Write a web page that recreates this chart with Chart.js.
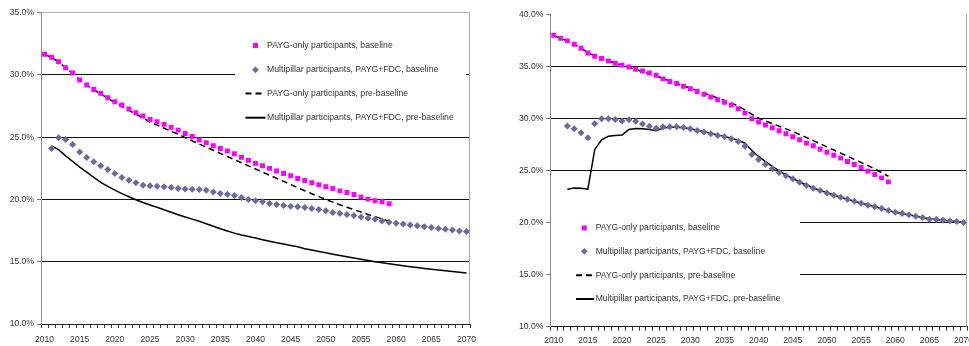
<!DOCTYPE html>
<html>
<head>
<meta charset="utf-8">
<script src="https://cdn.jsdelivr.net/npm/chart.js@4.4.1/dist/chart.umd.min.js"></script>
<style>
  html, body { margin: 0; padding: 0; background: #fff; }
  #wrap { position: relative; width: 969px; height: 346px; overflow: hidden; }
  canvas { position: absolute; top: 0; }
  #left { left: 0; }
  #right { left: 490px; }
</style>
</head>
<body>
<div id="wrap">
  <canvas id="left" width="490" height="346"></canvas>
  <canvas id="right" width="479" height="346"></canvas>
</div>
<script>
// Years on the category axis
const years = [
  2010, 2011, 2012, 2013, 2014, 2015, 2016, 2017, 2018, 2019,
  2020, 2021, 2022, 2023, 2024, 2025, 2026, 2027, 2028, 2029,
  2030, 2031, 2032, 2033, 2034, 2035, 2036, 2037, 2038, 2039,
  2040, 2041, 2042, 2043, 2044, 2045, 2046, 2047, 2048, 2049,
  2050, 2051, 2052, 2053, 2054, 2055, 2056, 2057, 2058, 2059,
  2060, 2061, 2062, 2063, 2064, 2065, 2066, 2067, 2068, 2069,
  2070
];

const seriesLabels = [
  'PAYG-only participants, baseline',
  'Multipillar participants, PAYG+FDC, baseline',
  'PAYG-only participants, pre-baseline',
  'Multipillar participants, PAYG+FDC, pre-baseline'
];

// Left panel (%)
const leftPaygBaseline = [
  31.66, 31.42, 31.06, 30.58, 30.15, 29.59, 29.19, 28.84, 28.52, 28.17,
  27.85, 27.58, 27.26, 26.97, 26.70, 26.43, 26.24, 26.03, 25.79, 25.57,
  25.30, 25.05, 24.77, 24.55, 24.32, 24.10, 23.89, 23.67, 23.38, 23.14,
  22.90, 22.71, 22.50, 22.28, 22.09, 21.90, 21.69, 21.53, 21.34, 21.18,
  21.03, 20.88, 20.69, 20.56, 20.40, 20.19, 20.03, 19.89, 19.81, 19.65,
  null, null, null, null, null, null, null, null, null, null,
  null
];
const leftMultiBaseline = [
  null, 24.10, 24.95, 24.82, 24.42, 23.82, 23.38, 23.03, 22.71, 22.41,
  22.09, 21.77, 21.55, 21.34, 21.15, 21.10, 21.07, 21.02, 20.96, 20.88,
  20.84, 20.83, 20.80, 20.75, 20.61, 20.48, 20.43, 20.32, 20.16, 20.00,
  19.89, 19.81, 19.68, 19.60, 19.52, 19.46, 19.41, 19.36, 19.28, 19.20,
  19.10, 18.95, 18.87, 18.79, 18.71, 18.60, 18.49, 18.41, 18.28, 18.17,
  18.09, 18.04, 17.96, 17.90, 17.82, 17.74, 17.66, 17.60, 17.55, 17.47,
  17.42
];
const leftPaygPre = [
  31.65, 31.40, 31.05, 30.58, 30.13, 29.60, 29.18, 28.82, 28.48, 28.12,
  27.78, 27.47, 27.16, 26.86, 26.54, 26.22, 25.97, 25.72, 25.48, 25.24,
  24.97, 24.71, 24.45, 24.20, 23.95, 23.70, 23.45, 23.20, 22.95, 22.70,
  22.45, 22.20, 21.95, 21.70, 21.45, 21.20, 20.95, 20.70, 20.46, 20.23,
  20.00, 19.79, 19.58, 19.38, 19.18, 18.99, 18.80, 18.62, 18.44, 18.26,
  null, null, null, null, null, null, null, null, null, null,
  null
];
const leftMultiPre = [
  null, 24.30, 24.00, 23.50, 23.05, 22.60, 22.20, 21.78, 21.38, 21.05,
  20.75, 20.47, 20.22, 19.98, 19.76, 19.56, 19.37, 19.18, 18.98, 18.78,
  18.60, 18.42, 18.25, 18.05, 17.85, 17.65, 17.47, 17.30, 17.15, 17.02,
  16.90, 16.77, 16.65, 16.53, 16.42, 16.31, 16.20, 16.05, 15.94, 15.83,
  15.72, 15.61, 15.50, 15.40, 15.30, 15.20, 15.10, 15.00, 14.91, 14.83,
  14.75, 14.67, 14.60, 14.53, 14.46, 14.40, 14.34, 14.28, 14.22, 14.16,
  14.10
];

// Right panel (%)
const rightPaygBaseline = [
  37.98, 37.69, 37.45, 37.12, 36.74, 36.29, 35.98, 35.75, 35.52, 35.30,
  35.12, 34.93, 34.71, 34.56, 34.37, 34.15, 33.80, 33.54, 33.35, 33.08,
  32.85, 32.58, 32.32, 32.06, 31.80, 31.55, 31.28, 30.93, 30.51, 29.97,
  29.65, 29.36, 29.10, 28.81, 28.53, 28.24, 27.95, 27.63, 27.37, 27.05,
  26.76, 26.47, 26.19, 25.87, 25.58, 25.29, 24.94, 24.62, 24.29, 23.91,
  null, null, null, null, null, null, null, null, null, null,
  null
];
const rightMultiBaseline = [
  null, null, 29.27, 29.00, 28.62, 28.14, 29.50, 29.97, 29.98, 29.90,
  29.76, 29.87, 29.73, 29.46, 29.26, 29.05, 29.20, 29.21, 29.20, 29.13,
  29.02, 28.85, 28.69, 28.53, 28.37, 28.24, 28.04, 27.79, 27.34, 26.54,
  26.06, 25.61, 25.16, 24.81, 24.49, 24.20, 23.88, 23.56, 23.30, 23.08,
  22.85, 22.63, 22.44, 22.24, 22.05, 21.86, 21.67, 21.51, 21.35, 21.15,
  20.99, 20.87, 20.74, 20.61, 20.48, 20.32, 20.29, 20.22, 20.16, 20.10,
  20.00
];
const rightPaygPre = [
  37.95, 37.70, 37.45, 37.12, 36.76, 36.32, 36.00, 35.76, 35.52, 35.30,
  35.10, 34.90, 34.70, 34.50, 34.30, 34.08, 33.84, 33.60, 33.36, 33.12,
  32.90, 32.66, 32.42, 32.19, 31.96, 31.73, 31.48, 31.18, 30.82, 30.40,
  30.02, 29.76, 29.50, 29.25, 29.00, 28.74, 28.46, 28.17, 27.87, 27.57,
  27.27, 26.97, 26.67, 26.37, 26.07, 25.77, 25.47, 25.14, 24.80, 24.45,
  null, null, null, null, null, null, null, null, null, null,
  null
];
const rightMultiPre = [
  null, null, 23.20, 23.32, 23.30, 23.20, 27.00, 27.95, 28.30, 28.37,
  28.40, 28.94, 29.04, 29.00, 28.94, 28.82, 29.07, 29.15, 29.15, 29.10,
  29.00, 28.86, 28.72, 28.57, 28.42, 28.27, 28.10, 27.90, 27.62, 26.92,
  26.35, 25.85, 25.40, 24.97, 24.57, 24.22, 23.90, 23.58, 23.32, 23.09,
  22.86, 22.64, 22.44, 22.25, 22.06, 21.87, 21.68, 21.52, 21.35, 21.16,
  21.00, 20.87, 20.74, 20.61, 20.48, 20.36, 20.29, 20.22, 20.16, 20.10,
  20.02
];

const PINK = '#FF00FF';
const SLATE = '#6B6B9F';
const TEXT = '#333333';
const FONT = '"Liberation Sans", Arial, Helvetica, sans-serif';

Chart.defaults.font.family = FONT;
Chart.defaults.color = TEXT;

// White legend panel drawn over the grid, beneath the series
const boxLegend = {
  id: 'boxLegend',
  beforeDatasetsDraw(chart, args, opts) {
    const ctx = chart.ctx;
    const a = chart.chartArea;
    ctx.save();
    // plot-area right edge
    ctx.strokeStyle = '#a8a8a8';
    ctx.lineWidth = 1;
    ctx.beginPath();
    ctx.moveTo(Math.round(a.right) - 0.5, a.top);
    ctx.lineTo(Math.round(a.right) - 0.5, a.bottom);
    ctx.stroke();

    const [bx, by, bw, bh] = opts.box;
    ctx.fillStyle = '#ffffff';
    ctx.fillRect(bx, by, bw, bh);

    ctx.font = opts.fontSize + 'px ' + FONT;
    ctx.textBaseline = 'middle';
    ctx.textAlign = 'left';
    chart.data.datasets.forEach((ds, i) => {
      const y = opts.rowY[i];
      if (ds.showLine === false) {
        ctx.fillStyle = ds.pointBackgroundColor;
        if (ds.pointStyle === 'rect') {
          ctx.fillRect(opts.markerX - 2.5, y - 2.5, 5, 5);
        } else {
          const r = 3.4;
          ctx.beginPath();
          ctx.moveTo(opts.markerX, y - r);
          ctx.lineTo(opts.markerX + r, y);
          ctx.lineTo(opts.markerX, y + r);
          ctx.lineTo(opts.markerX - r, y);
          ctx.closePath();
          ctx.fill();
        }
      } else {
        ctx.strokeStyle = ds.borderColor;
        ctx.lineWidth = 2;
        ctx.setLineDash(ds.borderDash || []);
        ctx.beginPath();
        ctx.moveTo(opts.lineX[0], y);
        ctx.lineTo(opts.lineX[1], y);
        ctx.stroke();
        ctx.setLineDash([]);
      }
      ctx.fillStyle = TEXT;
      ctx.fillText(ds.label, opts.textX, y);
    });
    ctx.restore();
  }
};

function makeDatasets(paygBase, multiBase, paygPre, multiPre) {
  return [
    {
      label: seriesLabels[0], data: paygBase, showLine: false,
      pointStyle: 'rect', pointRadius: 3.5, pointHoverRadius: 3.5,
      pointBackgroundColor: PINK, backgroundColor: PINK, pointBorderWidth: 0, borderColor: PINK
    },
    {
      label: seriesLabels[1], data: multiBase, showLine: false,
      pointStyle: 'rectRot', pointRadius: 3.5, pointHoverRadius: 3.5,
      pointBackgroundColor: SLATE, backgroundColor: SLATE, pointBorderWidth: 0, borderColor: SLATE
    },
    {
      label: seriesLabels[2], data: paygPre, borderColor: '#000000', borderWidth: 1.5,
      borderDash: [6, 4], pointRadius: 0, tension: 0, fill: false
    },
    {
      label: seriesLabels[3], data: multiPre, borderColor: '#000000', borderWidth: 1.5,
      pointRadius: 0, tension: 0, fill: false
    }
  ];
}

function makeChart(id, cfg) {
  const yMax = cfg.yMax;
  return new Chart(document.getElementById(id), {
    type: 'line',
    data: { labels: years, datasets: cfg.datasets },
    plugins: [boxLegend],
    options: {
      responsive: false,
      animation: false,
      devicePixelRatio: 1,
      events: [],
      layout: { autoPadding: false, padding: cfg.padding },
      plugins: {
        legend: { display: false },
        tooltip: { enabled: false },
        boxLegend: cfg.legend
      },
      scales: {
        x: {
          type: 'category',
          offset: true,
          grid: { offset: true, drawOnChartArea: false, drawTicks: true, tickLength: 4, color: '#333', lineWidth: 1 },
          border: { color: '#222', width: 1 },
          ticks: {
            autoSkip: false, maxRotation: 0, minRotation: 0, padding: cfg.xPad,
            color: TEXT, font: { size: 8.6 },
            callback: (v, i) => (years[i] % 5 === 0 ? String(years[i]) : '')
          },
          afterFit: s => { s.height = cfg.xHeight; s.paddingLeft = 0; s.paddingRight = 0; }
        },
        y: {
          min: 10, max: yMax,
          ticks: {
            stepSize: 5, padding: 3, color: TEXT, font: { size: 8.6 },
            callback: v => v.toFixed(1) + '%'
          },
          grid: {
            color: c => {
              const v = c.tick && c.tick.value;
              if (v === 10) return 'rgba(0,0,0,0)';
              if (v === yMax) return cfg.topColor;
              return '#111111';
            },
            tickColor: '#777777', tickLength: 4, lineWidth: 1
          },
          border: { color: '#8a8a8a', width: 1 },
          afterFit: s => { s.width = cfg.yWidth; s.paddingTop = 0; s.paddingBottom = 0; }
        }
      }
    }
  });
}

makeChart('left', {
  yMax: 35,
  datasets: makeDatasets(leftPaygBaseline, leftMultiBaseline, leftPaygPre, leftMultiPre),
  padding: { left: 0, top: 12.7, right: 20, bottom: 0 },
  yWidth: 41, xHeight: 22, xPad: 6, topColor: '#b4b4b4',
  legend: {
    box: [235, 28, 231, 102], fontSize: 8.7,
    rowY: [45.5, 69.8, 93.5, 117.7], markerX: 255.5, lineX: [245.5, 265.5], textX: 267
  }
});

makeChart('right', {
  yMax: 40,
  datasets: makeDatasets(rightPaygBaseline, rightMultiBaseline, rightPaygPre, rightMultiPre),
  padding: { left: 0, top: 14.3, right: 2, bottom: 0 },
  yWidth: 60.3, xHeight: 19.3, xPad: 5, topColor: 'rgba(0,0,0,0)',
  legend: {
    box: [61, 212, 249, 103], fontSize: 8.6,
    rowY: [228, 251.3, 275.3, 299], markerX: 94.3, lineX: [86, 104], textX: 105.7
  }
});
</script>
</body>
</html>
